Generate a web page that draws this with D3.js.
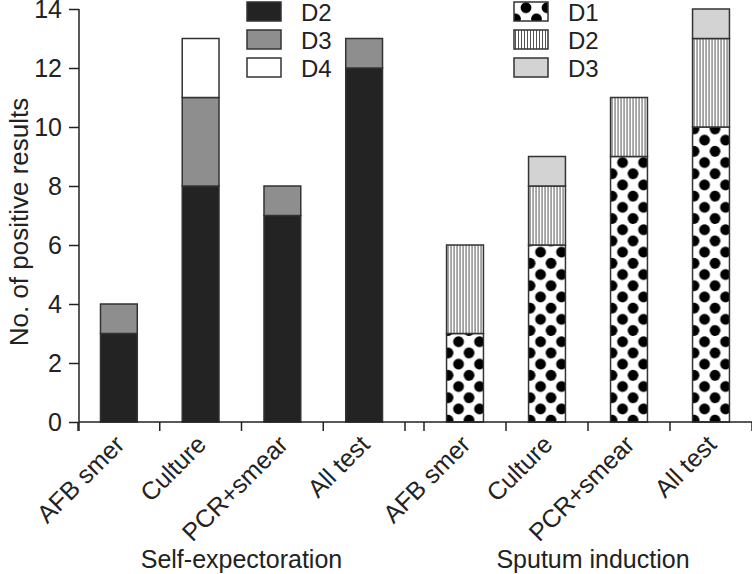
<!DOCTYPE html>
<html lang="en">
<head>
<meta charset="UTF-8">
<script src="https://d3js.org/d3.v7.min.js"></script>
<style>
body { margin: 0; background: white; }
text { font-family: "Liberation Sans", Arial, sans-serif; fill: #222; }
</style>
</head>
<body>
<div id="chart"></div>
<script>
// data
var categories = ["AFB smer", "Culture", "PCR+smear", "All test"];
var groupNames = ["Self-expectoration", "Sputum induction"];
var selfD2 = [3, 8, 7, 12];
var selfD3 = [1, 3, 1, 1];
var selfD4 = [0, 2, 0, 0];
var sputD1 = [3, 6, 9, 10];
var sputD2 = [3, 2, 2, 3];
var sputD3 = [0, 1, 0, 1];
var yTicks = [0, 2, 4, 6, 8, 10, 12, 14];

var W = 752, H = 574;
var axisCol = "#222";

var svg = d3.select("#chart").append("svg")
  .attr("width", W).attr("height", H);

var defs = svg.append("defs");

// dotted fill
var dots = defs.append("pattern")
  .attr("id", "dots")
  .attr("patternUnits", "userSpaceOnUse")
  .attr("width", 21).attr("height", 22.4);
dots.append("rect").attr("width", 21).attr("height", 22.4).attr("fill", "white");
[[12, 5.7], [1.5, 16.9], [22.5, 16.9], [-9, 5.7]].forEach(function(c) {
  dots.append("circle").attr("cx", c[0]).attr("cy", c[1]).attr("r", 5.4).attr("fill", "#000");
});

// vertical hatch
var hatch = defs.append("pattern")
  .attr("id", "vlines")
  .attr("patternUnits", "userSpaceOnUse")
  .attr("width", 3).attr("height", 10);
hatch.append("rect").attr("width", 3).attr("height", 10).attr("fill", "white");
hatch.append("rect").attr("x", 1).attr("width", 1).attr("height", 10).attr("fill", "#555");

var y = d3.scaleLinear().domain([0, 14]).range([422, 9]);

var groups = [
  { name: groupNames[0], range: [78, 405], labelShift: 0,
    series: [
      { key: "D2", values: selfD2, fill: "#232323" },
      { key: "D3", values: selfD3, fill: "#8e8e8e" },
      { key: "D4", values: selfD4, fill: "#ffffff" }
    ] },
  { name: groupNames[1], range: [424, 752], labelShift: 5,
    series: [
      { key: "D1", values: sputD1, fill: "url(#dots)" },
      { key: "D2", values: sputD2, fill: "url(#vlines)" },
      { key: "D3", values: sputD3, fill: "#d3d3d3" }
    ] }
];

groups.forEach(function(g) {
  var x = d3.scaleBand().domain(categories).range(g.range)
    .paddingInner(0.55).paddingOuter(0.275);

  var stack = d3.stack().keys(g.series.map(function(s, i) { return i; }))
    .value(function(d, k) { return g.series[k].values[d]; });
  var layers = stack(d3.range(categories.length));

  layers.forEach(function(layer, k) {
    var s = g.series[k];
    layer.forEach(function(seg, ci) {
      if (seg[1] - seg[0] <= 0) return;
      // each bar in its own group so patterns line up with the bar's left edge
      svg.append("g")
        .attr("transform", "translate(" + x(categories[ci]) + ",0)")
        .append("rect")
        .attr("x", 0)
        .attr("y", y(seg[1]))
        .attr("width", x.bandwidth())
        .attr("height", y(seg[0]) - y(seg[1]))
        .attr("fill", s.fill)
        .attr("stroke", "#333")
        .attr("stroke-width", 1.5);
    });
  });

  // tick marks between categories
  var edges = categories.map(function(c) { return x(c) - x.step() * x.paddingInner() / 2; });
  edges.push(g.range[1]);
  svg.selectAll(null).data(edges).enter().append("line")
    .attr("x1", function(d) { return d; }).attr("x2", function(d) { return d; })
    .attr("y1", y(0)).attr("y2", y(0) + 9)
    .attr("stroke", axisCol).attr("stroke-width", 1.5);

  svg.selectAll(null).data(categories).enter().append("text")
    .attr("transform", function(d) {
      return "translate(" + (x(d) + x.bandwidth() / 2 + 7) + "," + 446 + ") rotate(-45)";
    })
    .attr("text-anchor", "end")
    .attr("font-size", 25)
    .text(function(d) { return d; });

  svg.append("text")
    .attr("x", (g.range[0] + g.range[1]) / 2 + g.labelShift)
    .attr("y", 568)
    .attr("text-anchor", "middle")
    .attr("font-size", 25)
    .text(g.name);
});

// x baseline
svg.append("line")
  .attr("x1", 79).attr("x2", W).attr("y1", y(0)).attr("y2", y(0))
  .attr("stroke", axisCol).attr("stroke-width", 1.5);

// y axis
var yAxis = svg.append("g")
  .attr("transform", "translate(79,0)")
  .call(d3.axisLeft(y).tickValues(yTicks).tickSize(10).tickPadding(7));
yAxis.select(".domain").remove();
yAxis.selectAll("line").attr("stroke", axisCol).attr("stroke-width", 1.5);
yAxis.selectAll("text")
  .attr("font-size", 25)
  .attr("font-family", "Liberation Sans, Arial, sans-serif")
  .attr("fill", "#222");
svg.append("line")
  .attr("x1", 79).attr("x2", 79).attr("y1", y(14)).attr("y2", y(0) + 9)
  .attr("stroke", axisCol).attr("stroke-width", 1.5);

svg.append("text")
  .attr("transform", "translate(28,222) rotate(-90)")
  .attr("text-anchor", "middle")
  .attr("font-size", 26)
  .text("No. of positive results");

// legends
var legends = [
  { x: 247, items: groups[0].series },
  { x: 514, items: groups[1].series }
];
legends.forEach(function(lg) {
  var item = svg.selectAll(null).data(lg.items).enter().append("g")
    .attr("transform", function(d, i) { return "translate(" + lg.x + "," + (2 + i * 28) + ")"; });
  item.append("rect")
    .attr("width", 34).attr("height", 19)
    .attr("fill", function(d) { return d.fill; })
    .attr("stroke", "#333").attr("stroke-width", 1.5);
  item.append("text")
    .attr("x", 54).attr("y", 19)
    .attr("font-size", 24)
    .text(function(d) { return d.key; });
});
</script>
</body>
</html>
